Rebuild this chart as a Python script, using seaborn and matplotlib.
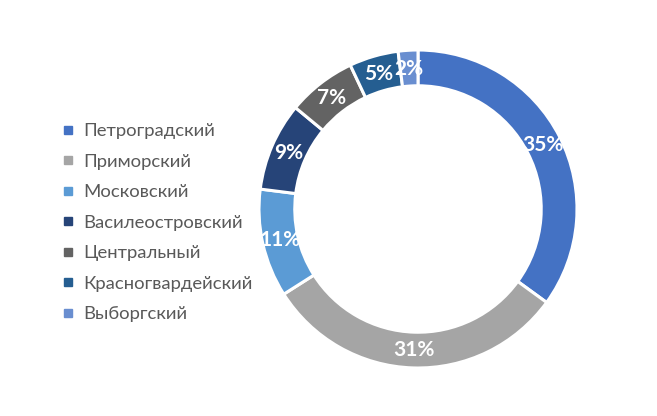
import matplotlib
matplotlib.use("Agg")
import matplotlib.pyplot as plt
from matplotlib.lines import Line2D
import seaborn as sns

districts = ["Петроградский", "Приморский", "Московский", "Василеостровский",
             "Центральный", "Красногвардейский", "Выборгский"]
shares = [35, 31, 11, 9, 7, 5, 2]
colors = ["#4472C4", "#A5A5A5", "#5B9BD5", "#264478", "#636363", "#255E91", "#698ED0"]

sns.set_theme(style="white")
plt.rcParams['font.family'] = ['Lato', 'DejaVu Sans']

W, H = 657, 416
fig = plt.figure(figsize=(W / 100, H / 100), dpi=100)
cx, cy, R = 418, 209, 159
ax = fig.add_axes([(cx - R) / W, (H - cy - R) / H, 2 * R / W, 2 * R / H])

wedges, texts, autotexts = ax.pie(
    shares, colors=colors, startangle=90, counterclock=False,
    radius=1.0, wedgeprops=dict(width=0.225, edgecolor="white", linewidth=2.2),
    autopct=lambda p: f"{p:.0f}%", pctdistance=0.885,
    textprops=dict(color="white", fontsize=15, fontweight="bold"))
ax.set_xlim(-1, 1)
ax.set_ylim(-1, 1)
ax.set_aspect("equal")
ax.axis("off")

handles = [Line2D([0], [0], marker="s", linestyle="none", markersize=6,
                  markerfacecolor=c, markeredgecolor=c) for c in colors]
leg = fig.legend(handles, districts, loc="upper left",
                 bbox_to_anchor=(59 / W, 1 - 123 / H), frameon=False,
                 fontsize=13.3, labelspacing=0.785, handletextpad=0.3,
                 handlelength=1.0, borderaxespad=0, borderpad=0)
for t in leg.get_texts():
    t.set_color("#595959")

fig.savefig("out.png", dpi=100, facecolor="white")
